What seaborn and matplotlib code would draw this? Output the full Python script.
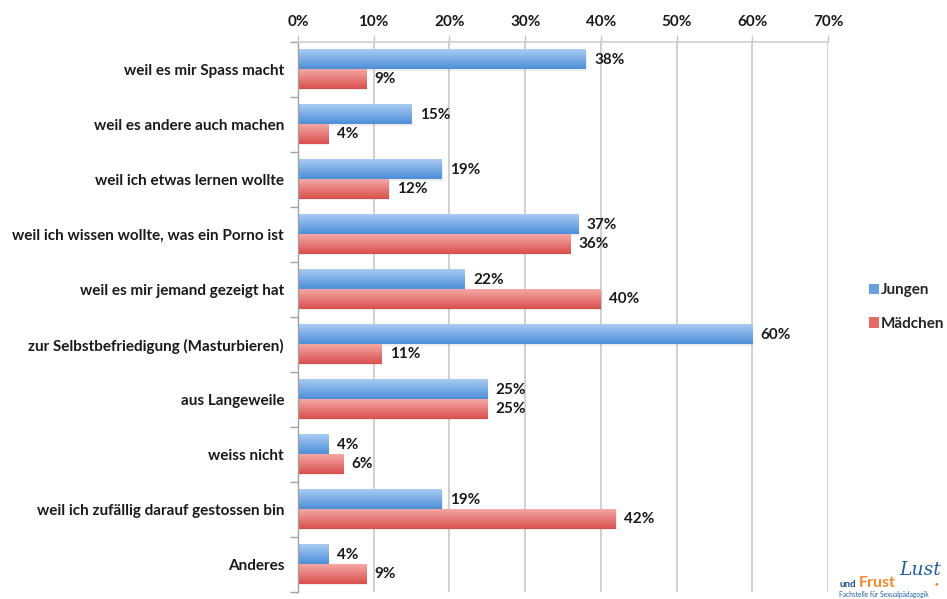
import numpy as np
import pandas as pd
import matplotlib
matplotlib.use("Agg")
import matplotlib.pyplot as plt
import seaborn as sns
from matplotlib.colors import LinearSegmentedColormap
from matplotlib.patches import Patch

categories = [
    "weil es mir Spass macht",
    "weil es andere auch machen",
    "weil ich etwas lernen wollte",
    "weil ich wissen wollte, was ein Porno ist",
    "weil es mir jemand gezeigt hat",
    "zur Selbstbefriedigung (Masturbieren)",
    "aus Langeweile",
    "weiss nicht",
    "weil ich zufällig darauf gestossen bin",
    "Anderes",
]
jungen = [38, 15, 19, 37, 22, 60, 25, 4, 19, 4]
maedchen = [9, 4, 12, 36, 40, 11, 25, 6, 42, 9]
series = ["Jungen", "Mädchen"]
x_ticks = [0, 10, 20, 30, 40, 50, 60, 70]

df = pd.DataFrame({
    "Kategorie": categories * 2,
    "Wert": jungen + maedchen,
    "Gruppe": ["Jungen"] * len(categories) + ["Mädchen"] * len(categories),
})

sns.set_theme(style="white")
plt.rcParams["font.family"] = ["Lato", "DejaVu Sans"]
FS = 11

fig = plt.figure(figsize=(9.47, 5.99), dpi=100)
ax = fig.add_axes([298 / 947, 1 - 592 / 599, (828 - 298) / 947, (592 - 42) / 599])

blue_mid = "#6a9fe0"
red_mid = "#e46b68"
sns.barplot(data=df, y="Kategorie", x="Wert", hue="Gruppe", order=categories,
            hue_order=series, palette=[blue_mid, red_mid], orient="h",
            width=0.71, gap=0, ax=ax, legend=False, linewidth=0, saturation=1)

# gradient fill for bars
cmaps = {
    0: LinearSegmentedColormap.from_list("b", ["#a8cbf4", "#4d8ed8"]),
    1: LinearSegmentedColormap.from_list("r", ["#f6a7a5", "#d84f4c"]),
}
n = len(categories)
grad = np.linspace(0, 1, 64).reshape(-1, 1)
for i, p in enumerate(list(ax.patches)[: 2 * n]):
    s = i // n
    x0, y0 = p.get_x(), p.get_y()
    w, h = p.get_width(), p.get_height()
    ax.add_patch(plt.Rectangle((x0 + 0.12, y0 + 0.02), w, h, color="#000000",
                               alpha=0.07, lw=0, zorder=1.5))
    ax.imshow(grad, cmap=cmaps[s], aspect="auto",
              extent=(x0, x0 + w, y0 + h, y0), zorder=2, origin="upper")
    p.set_visible(False)
    ax.text(x0 + w + 1.1, y0 + h / 2, f"{int(round(w))}%", va="center", ha="left",
            fontsize=FS, fontweight="bold", color="#1a1a1a", zorder=5)

ax.set_xlim(0, 70)
ax.set_ylim(len(categories) - 0.5, -0.5)
ax.set_aspect("auto")

ax.xaxis.tick_top()
ax.set_xticks(x_ticks)
ax.set_xticklabels([f"{t}%" for t in x_ticks], fontsize=FS, fontweight="bold",
                   color="#1a1a1a")
ax.tick_params(axis="x", which="both", top=True, length=5, width=1,
               color="#c8c8c8", pad=4)
ax.grid(axis="x", color="#c8c8c8", linewidth=1.2, zorder=0)
ax.set_axisbelow(True)

ax.set_yticks(np.arange(n))
ax.set_yticklabels(categories, fontsize=FS, fontweight="bold", color="#1a1a1a")
ax.set_yticks(np.arange(n + 1) - 0.5, minor=True)
ax.tick_params(axis="y", which="major", left=False, length=0, pad=10)
ax.tick_params(axis="y", which="minor", left=True, length=6, width=1, color="#a0a0a0")
ax.set_xlabel("")
ax.set_ylabel("")

for side in ["right", "bottom"]:
    ax.spines[side].set_visible(False)
ax.spines["top"].set_color("#d0d0d0")
ax.spines["top"].set_linewidth(1.2)
ax.spines["left"].set_color("#a0a0a0")
ax.spines["left"].set_linewidth(1.0)

# legend
handles = [Patch(facecolor="#6a9fe0", edgecolor="none"), Patch(facecolor="#e46b68", edgecolor="none")]
fig.legend(handles, series, loc="center left", bbox_to_anchor=(855 / 947, 1 - 307 / 599),
           frameon=False, handlelength=0.65, handleheight=0.65,
           handletextpad=0.15, labelspacing=1.3, prop={"weight": "bold", "size": FS})

# logo
fig.text(839 / 947, 1 - 587 / 599, "und", fontsize=7, color="#1f4e8c", fontweight="bold",
         va="baseline")
fig.text(859 / 947, 1 - 587 / 599, "Frust", fontsize=11.5, color="#f08a2c", va="baseline",
         fontweight="bold")
fig.text(899 / 947, 1 - 575 / 599, "Lust", fontsize=13.5, color="#1f5fa8", va="baseline",
         family=["DejaVu Serif"], style="italic")
fig.text(937 / 947, 1 - 584 / 599, "●", fontsize=4.5, color="#f08a2c", ha="center", va="center")
fig.text(839 / 947, 1 - 597 / 599, "Fachstelle für Sexualpädagogik", fontsize=4.8,
         color="#1f5fa8", va="baseline")

fig.savefig("out.png", dpi=100, facecolor="white")
